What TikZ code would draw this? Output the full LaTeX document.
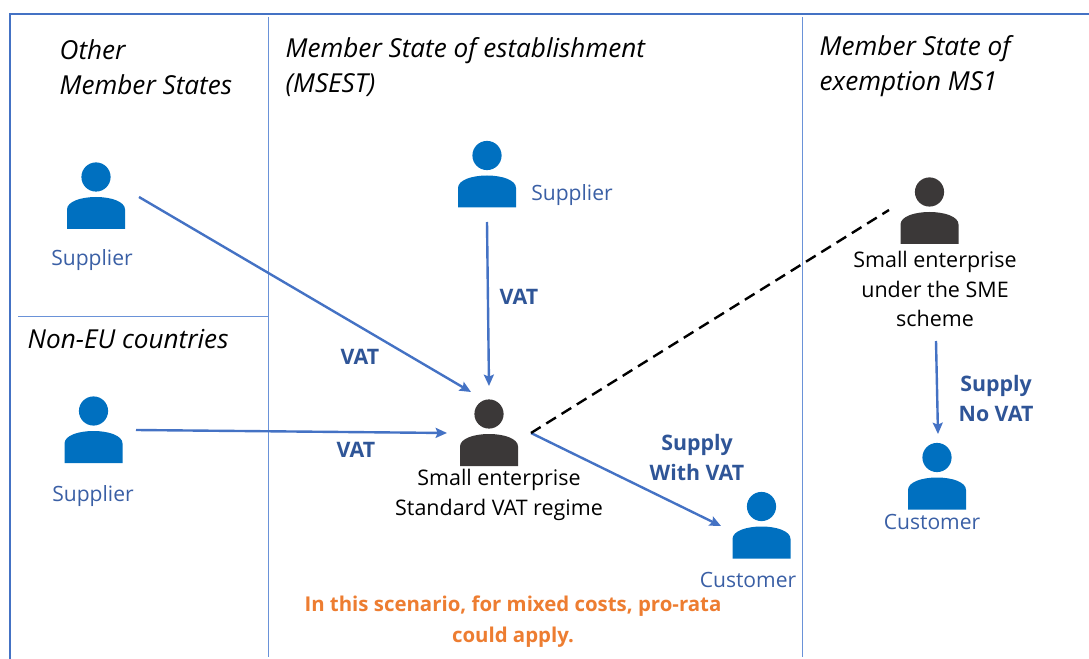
\documentclass[tikz,border=0pt]{standalone}
\usepackage{fontspec}
\setmainfont{Open Sans}
\usetikzlibrary{arrows.meta}
\definecolor{frameblue}{HTML}{4472C4}
\definecolor{ruleblue}{HTML}{6A92D8}
\definecolor{personblue}{HTML}{0070C0}
\definecolor{persongrey}{HTML}{3B3838}
\definecolor{textblue}{HTML}{3A5FA5}
\definecolor{vatblue}{HTML}{2F5597}
\definecolor{noteorange}{HTML}{ED7D31}
\begin{document}
\begin{tikzpicture}[
    x=.75pt, y=-.75pt,
    >={Stealth[length=8.5pt,width=7.5pt,inset=1.5pt]},
    frame/.style   = {frameblue, line width=1.8pt},
    divider/.style = {ruleblue, line width=.7pt},
    flow/.style    = {->, frameblue, line width=1.8pt},
    link/.style    = {black, line width=1.8pt, dash pattern=on 8.5pt off 5pt},
    person/.style 2 args = {inner sep=0pt, minimum width=46pt, minimum height=52pt,
      path picture={
        \begin{scope}[shift={(path picture bounding box.center)}, scale=#2]
          \fill[#1] (0,-18.5) circle[radius=10.95pt];
          \fill[#1] (-29,33.5) -- (-29,14) .. controls (-29,6) and (-15,1.5) .. (0,1.5)
            .. controls (15,1.5) and (29,6) .. (29,14) -- (29,33.5) -- cycle;
        \end{scope}
      }},
    region/.style  = {font=\fontsize{19.6}{26}\selectfont\itshape, align=left, anchor=west},
    who/.style     = {font=\fontsize{16.1}{22}\selectfont, align=center},
    role/.style    = {textblue, font=\fontsize{15.8}{22}\selectfont},
    tag/.style     = {vatblue, font=\fontsize{16}{22}\selectfont\bfseries, align=center},
    note/.style    = {noteorange, font=\fontsize{15.3}{23}\selectfont\bfseries, align=center},
  ]
	\useasboundingbox (0,0) rectangle (1089,659);
	
	% Frame
	\draw[frame] (10,659) -- (10,14) -- (1089,14);
	\draw[divider] (268,17) -- (268,657);
	\draw[divider] (802,17) -- (802,657);
	\draw[divider] (18,316.5) -- (268,316.5);
	
	% Regions
	\node[region] (other) at (55,67) {Other\\Member States};
	\node[region] (msest) at (281,67) {Member State of establishment\\(MSEST)};
	\node[region] (ms1) at (815,66) {Member State of\\exemption MS1};
	\node[region] (noneu) at (23,339) {Non-EU countries};
	
	% Persons
	\node[person={personblue}{1}] (supA) at (96,195.5) {};
	\node[person={personblue}{1}] (supB) at (487,174) {};
	\node[person={personblue}{1}] (supC) at (93.5,429.5) {};
	\node[person={persongrey}{.95}] (entA) at (489,432.5) {};
	\node[person={persongrey}{.95}] (entB) at (929.5,210.5) {};
	\node[person={personblue}{.95}] (custA) at (761.5,525) {};
	\node[person={personblue}{.95}] (custB) at (937,476) {};
	
	% Labels
	\node[role] (supAl) at (92,260) {Supplier};
	\node[role] (supBl) at (572,195) {Supplier};
	\node[role] (supCl) at (93,496) {Supplier};
	\node[role] (custAl) at (748,580) {Customer};
	\node[role] (custBl) at (932,522) {Customer};
	\node[who] (entAl) at (499,495) {Small enterprise\\Standard VAT regime};
	\node[who] (entBl) at (935,289) {Small enterprise\\under the SME\\scheme};
	
	\node[tag] (vatA) at (360,357) {VAT};
	\node[tag] (vatB) at (519,297) {VAT};
	\node[tag] (vatC) at (356,450) {VAT};
	\node[tag] (supplyA) at (697,457.5) {Supply\\With VAT};
	\node[tag] (supplyB) at (996,398.5) {Supply\\No VAT};
	\node[note] (mixed) at (513,621.5) {In this scenario, for mixed costs, pro-rata\\could apply.};
	
	% Connector ends
	\coordinate (supAout) at (139,197);
	\coordinate (supBout) at (487,222);
	\coordinate (supCout) at (136,430);
	\coordinate (entAinA) at (471,392);
	\coordinate (entAinB) at (489,386);
	\coordinate (entAinC) at (447,433);
	\coordinate (entAout) at (531,433);
	\coordinate (entBend) at (889,210);
	\coordinate (custAin) at (721,526);
	\coordinate (entBout) at (936,341);
	\coordinate (custBin) at (938,434);
	
	% Connectors
	\draw[flow] (supAout) -- (entAinA);
	\draw[flow] (supBout) -- (entAinB);
	\draw[flow] (supCout) -- (entAinC);
	\draw[flow] (entAout) -- (custAin);
	\draw[flow] (entBout) -- (custBin);
	\draw[link] (entAout) -- (entBend);
	
\end{tikzpicture}
\end{document}
